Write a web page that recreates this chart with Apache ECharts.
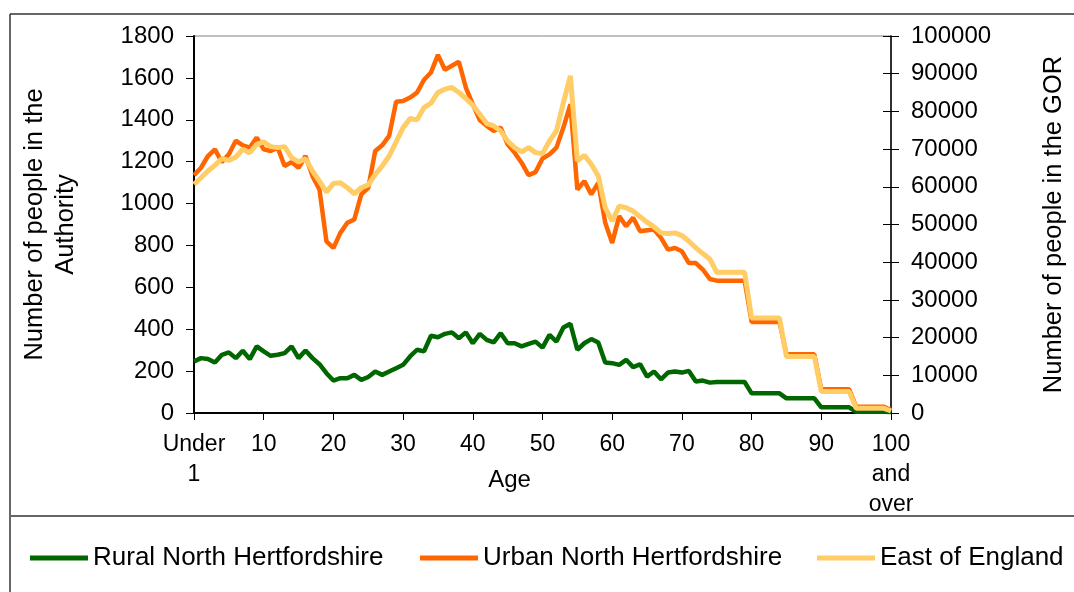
<!DOCTYPE html>
<html>
<head>
<meta charset="utf-8">
<title>Age profile</title>
<script src="https://cdn.jsdelivr.net/npm/echarts@6/dist/echarts.min.js"></script>
<style>
  html, body { margin: 0; padding: 0; background: #fff; }
  #chart { width: 1074px; height: 592px; }
</style>
</head>
<body>
<div id="chart"></div>
<script>
// categories: single years of age
const ages = ['Under 1',
  '1','2','3','4','5','6','7','8','9','10','11','12','13','14','15','16','17','18','19','20',
  '21','22','23','24','25','26','27','28','29','30','31','32','33','34','35','36','37','38','39','40',
  '41','42','43','44','45','46','47','48','49','50','51','52','53','54','55','56','57','58','59','60',
  '61','62','63','64','65','66','67','68','69','70','71','72','73','74','75','76','77','78','79','80',
  '81','82','83','84','85','86','87','88','89','90','91','92','93','94','95','96','97','98','99',
  '100 and over']

// left axis (people in the Authority)
const rural = [246, 262, 258, 241, 278, 289, 262, 297, 257, 318,
  294, 273, 278, 286, 318, 262, 298, 262, 233, 190,
  155, 166, 166, 182, 158, 172, 198, 182, 198, 214,
  230, 270, 302, 294, 369, 362, 378, 385, 357, 385,
  333, 378, 349, 337, 381, 333, 333, 318, 330, 341,
  312, 373, 341, 408, 426, 302, 333, 353, 337, 241,
  238, 230, 254, 219, 233, 174, 198, 161, 193, 198,
  193, 201, 150, 155, 145, 148, 148, 148, 148, 148,
  94, 94, 94, 94, 94, 70, 70, 70, 70, 70,
  27, 27, 27, 27, 27, 6, 6, 6, 6, 6,
  5]

const urban = [1135, 1171, 1227, 1259, 1198, 1235, 1300, 1278, 1267, 1315,
  1259, 1251, 1267, 1179, 1198, 1171, 1227, 1131, 1067, 820,
  788, 860, 908, 924, 1044, 1075, 1251, 1278, 1323, 1486,
  1490, 1506, 1530, 1591, 1626, 1710, 1639, 1658, 1677, 1554,
  1474, 1399, 1371, 1347, 1363, 1283, 1243, 1195, 1136, 1150,
  1215, 1235, 1267, 1363, 1474, 1067, 1107, 1044, 1099, 908,
  812, 940, 892, 932, 868, 873, 876, 836, 780, 788,
  772, 716, 716, 685, 640, 632, 632, 632, 632, 632,
  435, 435, 435, 435, 435, 280, 280, 280, 280, 280,
  113, 113, 113, 113, 113, 30, 30, 30, 30, 30,
  14]

// right axis (people in the GOR)
const eastOfEngland = [60640, 62400, 64180, 65700, 67500, 67000, 67900, 69950, 69060, 71280,
  71900, 70660, 70390, 70660, 67730, 66580, 67460, 64180, 61520, 58600,
  60900, 61080, 59750, 58160, 59750, 60500, 63300, 65510, 68170, 71900,
  75700, 78100, 77750, 81030, 82180, 85020, 85900, 86350, 85020, 83420,
  81650, 79260, 76770, 76150, 74820, 72160, 70390, 69240, 70390, 69060,
  68800, 72160, 74820, 82360, 89450, 66840, 68350, 65960, 62850, 54430,
  50890, 54870, 54430, 53550, 52040, 50620, 49380, 47780, 47610, 47780,
  47070, 45570, 43790, 42290, 40870, 37320, 37320, 37320, 37320, 37320,
  25180, 25180, 25180, 25180, 25180, 14980, 14980, 14980, 14980, 14980,
  5670, 5670, 5670, 5670, 5670, 1240, 1240, 1240, 1240, 1240,
  530]

const seriesNames = ['Rural North Hertfordshire', 'Urban North Hertfordshire', 'East of England']
const colors = ['#006600', '#ff6600', '#ffcc66']

const FONT = '"Liberation Sans", Arial, sans-serif'

const chart = echarts.init(document.getElementById('chart'))

// one legend per item so each sits where the original put it
const legendLeft = [30, 420, 817]
const legends = seriesNames.map((name, i) => ({
  data: [name],
  left: legendLeft[i],
  top: 545,
  padding: 0,
  icon: 'rect',
  itemWidth: 58,
  itemHeight: 5,
  itemGap: 0,
  selectedMode: false,
  textStyle: { fontFamily: FONT, fontSize: 26, color: '#000' }
}))

const plain = v => String(v)

const option = {
  animation: false,
  backgroundColor: '#fff',
  textStyle: { fontFamily: FONT },
  legend: legends,
  grid: {
    left: 194,
    right: 183,
    top: 36,
    bottom: 179,
    show: true,
    borderColor: '#808080',
    borderWidth: 1,
    containLabel: false,
    outerBoundsMode: 'none'
  },
  xAxis: {
    type: 'category',
    data: ages,
    boundaryGap: false,
    name: 'Age',
    nameLocation: 'middle',
    nameGap: 55,
    nameMoveOverlap: false,
    nameTextStyle: { fontFamily: FONT, fontSize: 24, color: '#000', padding: [0, 66, 0, 0] },
    axisLine: { lineStyle: { color: '#000', width: 2 } },
    axisTick: { interval: 9, length: 7, lineStyle: { color: '#000', width: 1 } },
    axisLabel: {
      interval: 9,
      margin: 17,
      fontFamily: FONT,
      fontSize: 23,
      lineHeight: 30,
      color: '#000',
      formatter: v => v.split(' ').join('\n')
    }
  },
  yAxis: [
    {
      type: 'value',
      min: 0,
      max: 1800,
      interval: 200,
      position: 'left',
      name: 'Number of people in the\nAuthority',
      nameLocation: 'middle',
      nameRotate: 90,
      nameGap: 113,
      nameMoveOverlap: false,
      nameTextStyle: { fontFamily: FONT, fontSize: 25.5, lineHeight: 31, color: '#000' },
      axisLine: { show: true, lineStyle: { color: '#000', width: 2 } },
      axisTick: { show: true, length: 8, lineStyle: { color: '#000', width: 1 } },
      axisLabel: { margin: 20, fontFamily: FONT, fontSize: 24, color: '#000', formatter: plain },
      splitLine: { show: false }
    },
    {
      type: 'value',
      min: 0,
      max: 100000,
      interval: 10000,
      position: 'right',
      name: 'Number of people in the GOR',
      nameLocation: 'middle',
      nameRotate: 90,
      nameGap: 150,
      nameMoveOverlap: false,
      nameTextStyle: { fontFamily: FONT, fontSize: 25.5, color: '#000' },
      axisLine: { show: true, lineStyle: { color: '#000', width: 1.5 } },
      axisTick: { show: true, length: 8, lineStyle: { color: '#000', width: 1 } },
      axisLabel: { margin: 20, fontFamily: FONT, fontSize: 24, color: '#000', formatter: plain },
      splitLine: { show: false }
    },
    {
      // inner half of the crossing ticks on the right axis
      type: 'value',
      min: 0,
      max: 100000,
      interval: 10000,
      position: 'right',
      axisLine: { show: false },
      axisTick: { show: true, inside: true, length: 8, lineStyle: { color: '#000', width: 1 } },
      axisLabel: { show: false },
      splitLine: { show: false }
    }
  ],
  series: [
    {
      name: seriesNames[0],
      type: 'line',
      yAxisIndex: 0,
      data: rural,
      showSymbol: false,
      symbol: 'none',
      lineStyle: { color: colors[0], width: 4.5 },
      itemStyle: { color: colors[0] }
    },
    {
      name: seriesNames[1],
      type: 'line',
      yAxisIndex: 0,
      data: urban,
      showSymbol: false,
      symbol: 'none',
      lineStyle: { color: colors[1], width: 4.5 },
      itemStyle: { color: colors[1] }
    },
    {
      name: seriesNames[2],
      type: 'line',
      yAxisIndex: 1,
      data: eastOfEngland,
      showSymbol: false,
      symbol: 'none',
      lineStyle: { color: colors[2], width: 5 },
      itemStyle: { color: colors[2] }
    }
  ],
  // chart frame and the rule above the legend
  graphic: [
    { type: 'line', shape: { x1: 10, y1: 14, x2: 1074, y2: 14 }, style: { stroke: '#333', lineWidth: 1.5 } },
    { type: 'line', shape: { x1: 10, y1: 14, x2: 10, y2: 592 }, style: { stroke: '#333', lineWidth: 1.5 } },
    { type: 'line', shape: { x1: 10, y1: 516, x2: 1074, y2: 516 }, style: { stroke: '#666', lineWidth: 2 } }
  ]
}

chart.setOption(option)
</script>
</body>
</html>
